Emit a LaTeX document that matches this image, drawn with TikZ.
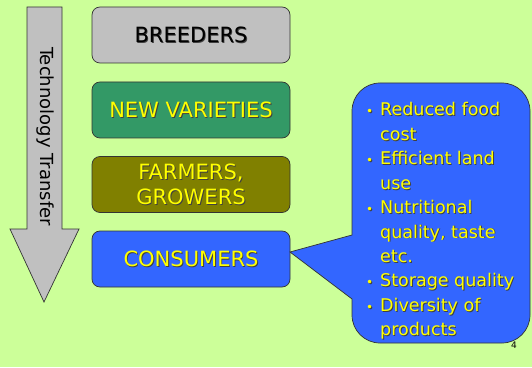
\documentclass[tikz,border=0pt]{standalone}
\usepackage{fontspec}
\setmainfont{DejaVu Sans}
\definecolor{bg}{HTML}{CCFF99}
\definecolor{grayb}{HTML}{C0C0C0}
\definecolor{greenb}{HTML}{339966}
\definecolor{oliveb}{HTML}{808000}
\definecolor{blueb}{HTML}{3366FF}
\definecolor{yel}{HTML}{FFFF00}
\newcommand\shtx[2][yel]{\makebox[0pt][l]{\hspace{0.9pt}\raisebox{-0.9pt}{\color{black!75}#2}}{\color{#1}#2}}
\tikzset{
  stagebox/.style={draw=black!80, line width=0.7pt, rounded corners=8pt, minimum width=198pt, minimum height=56pt, inner sep=0pt, align=center, font=\fontsize{21}{22}\selectfont},
  cline/.style={anchor=base west, inner sep=0pt, font=\fontsize{17.5}{20}\selectfont},
  bul/.style={anchor=base west, inner sep=0pt, font=\fontsize{12}{14}\selectfont}
}
\begin{document}
\begin{tikzpicture}[x=1pt,y=1pt]
\fill[bg] (0,0) rectangle (532,367);
\useasboundingbox (0,0) rectangle (532,367);
% arrow
\draw[fill=grayb, draw=black!80, line width=0.7pt] (27,360) -- (62,360) -- (62,138) -- (79,138) -- (44,65) -- (10,138) -- (27,138) -- cycle;
\node[rotate=-90, font=\fontsize{18}{20}\selectfont, inner sep=0pt] (tt) at (45,230.5) {Technology Transfer};
% boxes
\node[stagebox, fill=grayb] (breed) at (191,332) {\shtx[black]{BREEDERS}};
\node[stagebox, fill=greenb] (newv) at (191,257) {\shtx{NEW VARIETIES}};
\node[stagebox, fill=oliveb, font=\fontsize{21}{25}\selectfont] (farm) at (191,182.5) {\shtx{FARMERS,}\\\shtx{GROWERS}};
\node[stagebox, fill=blueb] (cons) at (191,108) {\shtx{CONSUMERS}};
% callout
\coordinate (tip) at (290,115);
\draw[fill=blueb, draw=black!80, line width=0.7pt] (352,132) -- (tip) -- (352,68) -- (352,52) arc (180:270:28) -- (502,24) arc (270:360:28) -- (530,256) arc (0:90:28) -- (380,284) arc (90:180:28) -- cycle;
% callout text
\node[bul] (b1) at (366,251) {\shtx{•}};
\node[cline] (l1) at (380,251) {\shtx{Reduced food}};
\node[cline] (l2) at (380,226.6) {\shtx{cost}};
\node[bul] (b2) at (366,202.2) {\shtx{•}};
\node[cline] (l3) at (380,202.2) {\shtx{Efficient land}};
\node[cline] (l4) at (380,177.8) {\shtx{use}};
\node[bul] (b3) at (366,153.4) {\shtx{•}};
\node[cline] (l5) at (380,153.4) {\shtx{Nutritional}};
\node[cline] (l6) at (380,129) {\shtx{quality, taste}};
\node[cline] (l7) at (380,104.6) {\shtx{etc.}};
\node[bul] (b4) at (366,80.2) {\shtx{•}};
\node[cline] (l8) at (380,80.2) {\shtx{Storage quality}};
\node[bul] (b5) at (366,55.8) {\shtx{•}};
\node[cline] (l9) at (380,55.8) {\shtx{Diversity of}};
\node[cline] (l10) at (380,31.4) {\shtx{products}};
\node[font=\fontsize{9}{10}\selectfont, inner sep=0pt] (pg) at (514,22) {4};
\end{tikzpicture}
\end{document}
